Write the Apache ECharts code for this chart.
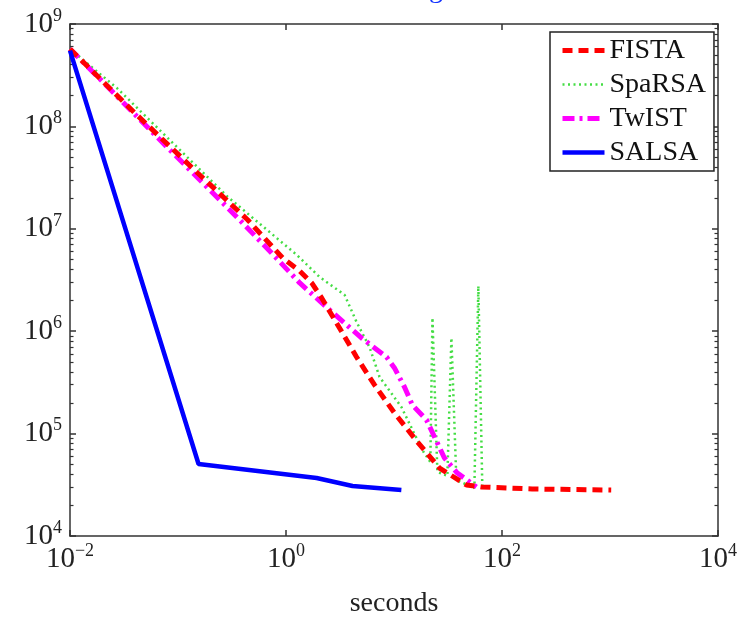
<!DOCTYPE html>
<html><head><meta charset="utf-8">
<script src="https://cdn.jsdelivr.net/npm/echarts@6/dist/echarts.min.js"></script>
<style>html,body{margin:0;padding:0;background:#fff}#c{width:740px;height:623px}</style>
</head><body><div id="c"></div>
<script>
const seriesNames = ['FISTA', 'SpaRSA', 'TwIST', 'SALSA'];
const fistaX = [0.01, 0.0399, 0.152, 0.443, 0.931, 1.34, 1.73, 2.14, 3.14, 4.50, 6.6, 10.1, 16.5, 26.4, 46.8, 64.4, 190, 1026];
const fistaY = [5.7e8, 1.35e8, 3.51e7, 1.22e7, 5.19e6, 3.87e6, 2.96e6, 2.11e6, 1.07e6, 5.6e5, 2.99e5, 1.59e5, 8.28e4, 4.61e4, 3.15e4, 3.01e4, 2.88e4, 2.81e4];
const sparsaX = [0.01, 0.0272, 0.0975, 0.289, 1.26, 2.05, 3.49, 4.50, 5.93, 7.35, 11.7, 18.3, 21.7, 22.7, 25.2, 31.2, 34.0, 37.8, 55.5, 60.4, 65.8];
const sparsaY = [5.7e8, 2.37e8, 6.3e7, 2.05e7, 5.55e6, 3.38e6, 2.26e6, 1.23e6, 7.0e5, 3.57e5, 1.82e5, 6.9e4, 5.28e4, 1.35e6, 4.22e4, 3.86e4, 8.6e5, 3.52e4, 2.94e4, 2.76e6, 2.81e4];
const twistX = [0.01, 0.0224, 0.0789, 0.206, 0.373, 0.736, 1.34, 2.54, 5.0, 8.53, 10.1, 12.5, 14.8, 20.0, 29.3, 38.6, 57.9];
const twistY = [5.7e8, 2.43e8, 6.3e7, 2.29e7, 1.22e7, 5.8e6, 2.96e6, 1.61e6, 8.6e5, 5.6e5, 4.38e5, 2.85e5, 1.9e5, 1.36e5, 5.78e4, 4.12e4, 3.01e4];
const salsaX = [0.01, 0.155, 1.92, 4.13, 11.7];
const salsaY = [5.5e8, 5.05e4, 3.68e4, 3.08e4, 2.81e4];

const xTickExps = [-2, 0, 2, 4];
const yTickExps = [4, 5, 6, 7, 8, 9];
const xAxisName = 'seconds';

const FONT = 'Liberation Serif';
const zip = (xs, ys) => xs.map((x, i) => [x, ys[i]]);
const xTicks = xTickExps.map(e => Math.pow(10, e));
const yTicks = yTickExps.map(e => Math.pow(10, e));
const yMinor = [];
for (let k = 4; k < 9; k++) for (let m = 2; m <= 9; m++) yMinor.push(m * Math.pow(10, k));

const fmt = v => {
  const e = Math.round(Math.log10(v));
  return '{b|10}{s|' + (e < 0 ? '\u2212' + (-e) : e) + '}';
};
const rich = {
  b: {fontFamily: FONT, fontSize: 29, color: '#222', lineHeight: 30},
  s: {fontFamily: FONT, fontSize: 18, color: '#222', lineHeight: 18, padding: [0, 0, 16, 0]}
};
const lineCol = '#333';

function xAx(pos, labels) {
  return {
    type: 'log', logBase: 10, min: 0.01, max: 10000, position: pos,
    axisLine: {show: true, onZero: false, lineStyle: {color: lineCol, width: 1.5}},
    axisTick: {show: true, inside: true, length: 6, customValues: xTicks, lineStyle: {color: lineCol, width: 1.5}},
    axisLabel: {show: labels, customValues: xTicks, formatter: fmt, rich: rich, margin: 8},
    splitLine: {show: false}, minorTick: {show: false},
    name: labels ? xAxisName : '', nameLocation: 'middle', nameGap: 54,
    nameTextStyle: {fontFamily: FONT, fontSize: 28, color: '#222'}
  };
}
function yAx(pos, labels) {
  return {
    type: 'log', logBase: 10, min: 1e4, max: 1e9, position: pos,
    axisLine: {show: true, onZero: false, lineStyle: {color: lineCol, width: 1.5}},
    axisTick: {show: true, inside: true, length: 6, customValues: yTicks, lineStyle: {color: lineCol, width: 1.5}},
    axisLabel: {show: labels, customValues: yTicks, formatter: fmt, rich: rich, margin: 8},
    splitLine: {show: false}
  };
}
function yMinorAx(pos) {
  return {
    type: 'log', logBase: 10, min: 1e4, max: 1e9, position: pos,
    axisLine: {show: false},
    axisTick: {show: true, inside: true, length: 3.5, customValues: yMinor, lineStyle: {color: lineCol, width: 1.2}},
    axisLabel: {show: false}, splitLine: {show: false}
  };
}

const chart = echarts.init(document.getElementById('c'), null, {renderer: 'canvas'});
chart.setOption({
  backgroundColor: '#fff',
  animation: false,
  title: {text: 'g', left: 424, top: -29, textStyle: {color: '#1533ff', fontSize: 28, fontFamily: FONT, fontWeight: 'normal'}},
  grid: {left: 70, right: 21, top: 24, bottom: 87},
  xAxis: [xAx('bottom', true), xAx('top', false)],
  yAxis: [yAx('left', true), yAx('right', false), yMinorAx('left'), yMinorAx('right')],
  legend: {
    orient: 'vertical', left: 550, top: 32, padding: [4, 8, 4, 10],
    itemWidth: 42, itemHeight: 2, itemGap: 5,
    itemStyle: {opacity: 0},
    lineStyle: {width: 'inherit'},
    backgroundColor: '#fff', borderColor: '#222', borderWidth: 1.5, borderRadius: 0,
    textStyle: {fontFamily: FONT, fontSize: 28, color: '#111', lineHeight: 29},
    data: seriesNames
  },
  series: [
    {name: seriesNames[0], type: 'line', symbol: 'none', data: zip(fistaX, fistaY), z: 4,
     lineStyle: {color: '#ff0000', width: 5, type: [10, 6]}, itemStyle: {color: '#ff0000'}},
    {name: seriesNames[1], type: 'line', symbol: 'none', data: zip(sparsaX, sparsaY), z: 2,
     lineStyle: {color: '#44dd44', width: 2.5, type: [2, 3.5]}, itemStyle: {color: '#44dd44'}},
    {name: seriesNames[2], type: 'line', symbol: 'none', data: zip(twistX, twistY), z: 3,
     lineStyle: {color: '#ff00ff', width: 5, type: [12, 5, 3, 5]}, itemStyle: {color: '#ff00ff'}},
    {name: seriesNames[3], type: 'line', symbol: 'none', data: zip(salsaX, salsaY), z: 5,
     lineStyle: {color: '#0000ff', width: 4.5, type: 'solid'}, itemStyle: {color: '#0000ff'}}
  ]
});
</script>
</body></html>
